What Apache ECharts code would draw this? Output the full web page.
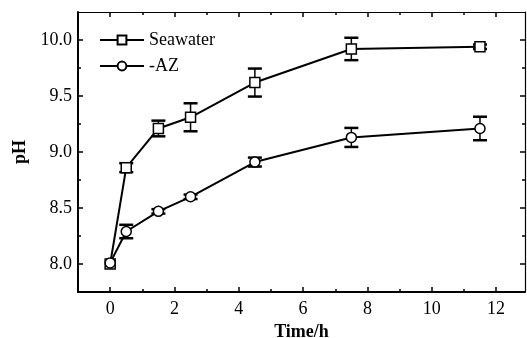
<!DOCTYPE html>
<html><head><meta charset="utf-8">
<script src="https://cdn.jsdelivr.net/npm/echarts@6/dist/echarts.min.js"></script>
<style>html,body{margin:0;padding:0;background:#fff}#c{width:527px;height:338px}</style>
</head><body><div id="c"></div>
<script>
var time = [0, 0.5, 1.5, 2.5, 4.5, 7.5, 11.5];
var seawater = [8.00, 8.86, 9.21, 9.31, 9.62, 9.92, 9.94];
var seawaterErr = [0, 0.04, 0.07, 0.125, 0.125, 0.10, 0.02];
var az = [8.01, 8.29, 8.47, 8.60, 8.91, 9.13, 9.21];
var azErr = [0, 0.06, 0.02, 0.02, 0.04, 0.085, 0.105];
var xMajor = [0, 2, 4, 6, 8, 10, 12];
var xMinor = [1, 3, 5, 7, 9, 11];
var yMajor = [8.0, 8.5, 9.0, 9.5, 10.0];
var yMinor = [8.25, 8.75, 9.25, 9.75];

var F = 'Liberation Serif';
var FS = 18;
function pairs(v){ return time.map(function(t,i){return [t, v[i]];}); }
function errData(v,e){ return time.map(function(t,i){return [t, v[i]-e[i], v[i]+e[i]];}).filter(function(d){return d[2]-d[1]>0;}); }
function errSeries(v,e){
  return {type:'custom', xAxisIndex:0, yAxisIndex:0, z:1, silent:true,
    data: errData(v,e),
    renderItem: function(params, api){
      var x = api.value(0), lo = api.value(1), hi = api.value(2);
      var p1 = api.coord([x, lo]), p2 = api.coord([x, hi]);
      var w = 7;
      return {type:'group', children:[
        {type:'line', shape:{x1:p1[0],y1:p1[1],x2:p2[0],y2:p2[1]}, style:{stroke:'#000',lineWidth:1.5}},
        {type:'line', shape:{x1:p1[0]-w,y1:p1[1],x2:p1[0]+w,y2:p1[1]}, style:{stroke:'#000',lineWidth:2.5}},
        {type:'line', shape:{x1:p2[0]-w,y1:p2[1],x2:p2[0]+w,y2:p2[1]}, style:{stroke:'#000',lineWidth:2.5}}
      ]};
    }};
}
var XMIN=-1, XMAX=12.9, YMIN=7.75, YMAX=10.25;
function xa(pos, ticks, len, show, line, lw){
  return {type:'value', position:pos, min:XMIN, max:XMAX, splitLine:{show:false},
    axisLine:{show:line, onZero:false, lineStyle:{color:'#000', width:lw}},
    axisTick:{show:true, inside:true, length:len, customValues:ticks, lineStyle:{color:'#000', width:1.5}},
    axisLabel:{show:show, customValues:ticks, margin:8, color:'#000', fontFamily:F, fontSize:FS}};
}
function ya(pos, ticks, len, show, line, lw){
  return {type:'value', position:pos, min:YMIN, max:YMAX, splitLine:{show:false},
    axisLine:{show:line, onZero:false, lineStyle:{color:'#000', width:lw}},
    axisTick:{show:true, inside:true, length:len, customValues:ticks, lineStyle:{color:'#000', width:1.5}},
    axisLabel:{show:show, customValues:ticks, margin:6, color:'#000', fontFamily:F, fontSize:FS,
      formatter:function(v){return v.toFixed(1);}}};
}
var xAxes = [xa('bottom', xMajor, 5, true, true, 2), xa('bottom', xMinor, 3, false, false, 1),
             xa('top', xMajor, 5, false, true, 1.2), xa('top', xMinor, 3, false, false, 1)];
xAxes[0].name = 'Time/h'; xAxes[0].nameLocation='middle'; xAxes[0].nameGap=28;
xAxes[0].nameTextStyle = {color:'#000', fontFamily:F, fontSize:FS, fontWeight:'bold'};
var yAxes = [ya('left', yMajor, 5, true, true, 2), ya('left', yMinor, 3, false, false, 1),
             ya('right', yMajor, 5, false, true, 1.2), ya('right', yMinor, 3, false, false, 1)];
yAxes[0].name = 'pH'; yAxes[0].nameLocation='middle'; yAxes[0].nameGap=48;
yAxes[0].nameTextStyle = {color:'#000', fontFamily:F, fontSize:FS, fontWeight:'bold'};

var chart = echarts.init(document.getElementById('c'));
chart.setOption({
  animation:false,
  grid:{left:78, right:2, top:12, bottom:46, outerBoundsMode:'none', containLabel:false},
  legend:{left:94, top:26, orient:'vertical', itemWidth:44, itemHeight:11, itemGap:8,
    textStyle:{color:'#000', fontFamily:F, fontSize:FS},
    data:['Seawater','-AZ']},
  xAxis: xAxes, yAxis: yAxes,
  series:[
    errSeries(seawater, seawaterErr), errSeries(az, azErr),
    {name:'Seawater', type:'line', xAxisIndex:0, yAxisIndex:0, z:3, data:pairs(seawater),
      symbol:'rect', symbolSize:10, lineStyle:{color:'#000', width:2},
      itemStyle:{color:'#fff', borderColor:'#000', borderWidth:1.5}},
    {name:'-AZ', type:'line', xAxisIndex:0, yAxisIndex:0, z:3, data:pairs(az),
      symbol:'circle', symbolSize:10, lineStyle:{color:'#000', width:2},
      itemStyle:{color:'#fff', borderColor:'#000', borderWidth:1.5}}
  ]
});
</script></body></html>
